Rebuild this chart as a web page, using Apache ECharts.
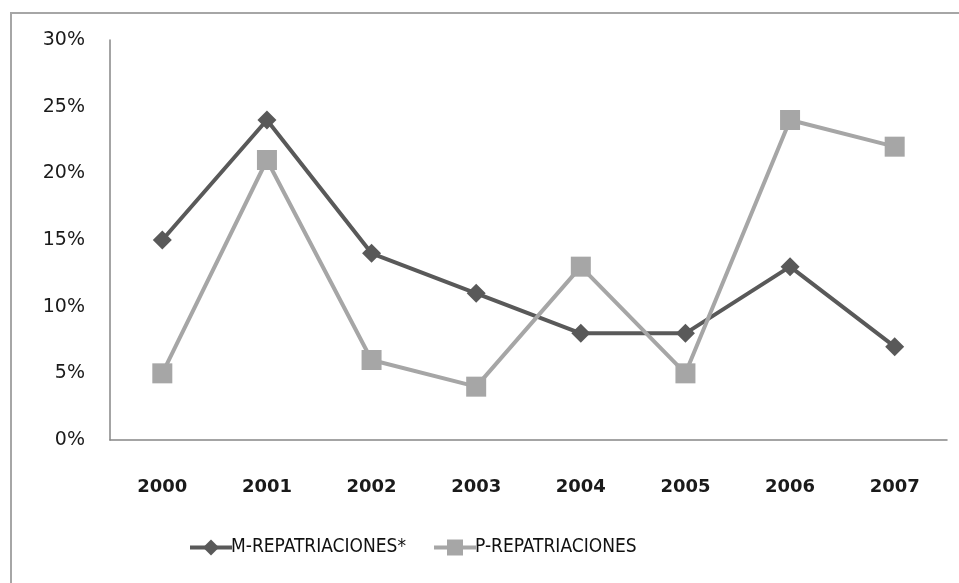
<!DOCTYPE html>
<html><head><meta charset="utf-8">
<script src="https://cdn.jsdelivr.net/npm/echarts@6/dist/echarts.min.js"></script>
<style>html,body{margin:0;padding:0;background:#fff}#c{width:959px;height:583px}</style>
</head><body><div id="c"></div>
<script>
const categories = ['2000','2001','2002','2003','2004','2005','2006','2007'];
const mRepatriaciones = [15, 24, 14, 11, 8, 8, 13, 7];
const pRepatriaciones = [5, 21, 6, 4, 13, 5, 24, 22];
const seriesNames = ['M-REPATRIACIONES*', 'P-REPATRIACIONES'];
const seriesColors = ['#595959', '#a6a6a6'];

const chart = echarts.init(document.getElementById('c'));
chart.setOption({
  animation: false,
  backgroundColor: '#fff',
  graphic: [{
    type: 'rect', shape: {x: 11, y: 13, width: 960, height: 600},
    style: {fill: 'none', stroke: '#a6a6a6', lineWidth: 2}, silent: true
  }],
  grid: {left: 110, right: 12, top: 40, bottom: 143},
  legend: {
    top: 533, left: 183, itemGap: 26, itemWidth: 42, itemHeight: 20,
    textStyle: {fontFamily: 'DejaVu Sans Condensed', fontSize: 19, color: '#111', padding: [0,0,0,-6]},
    data: seriesNames.map((n, i) => ({name: n, lineStyle: {width: 4, color: seriesColors[i]}}))
  },
  xAxis: {
    type: 'category', data: categories, boundaryGap: true,
    axisLine: {lineStyle: {color: '#868686', width: 1.5}},
    axisTick: {show: false},
    axisLabel: {margin: 38, fontFamily: 'DejaVu Sans', fontSize: 18, fontWeight: 'bold', color: '#1a1a1a'}
  },
  yAxis: {
    type: 'value', min: 0, max: 30, interval: 5,
    axisLine: {show: true, lineStyle: {color: '#868686', width: 1.5}},
    axisTick: {show: false},
    splitLine: {show: false},
    axisLabel: {margin: 25, formatter: '{value}%', fontFamily: 'DejaVu Sans', fontSize: 19, color: '#1a1a1a'}
  },
  series: [
    {
      name: seriesNames[0], type: 'line', data: mRepatriaciones,
      symbol: 'diamond', symbolSize: 19,
      lineStyle: {color: seriesColors[0], width: 4},
      itemStyle: {color: seriesColors[0]}
    },
    {
      name: seriesNames[1], type: 'line', data: pRepatriaciones,
      symbol: 'rect', symbolSize: 20,
      lineStyle: {color: seriesColors[1], width: 4},
      itemStyle: {color: seriesColors[1]}
    }
  ]
});
</script></body></html>
